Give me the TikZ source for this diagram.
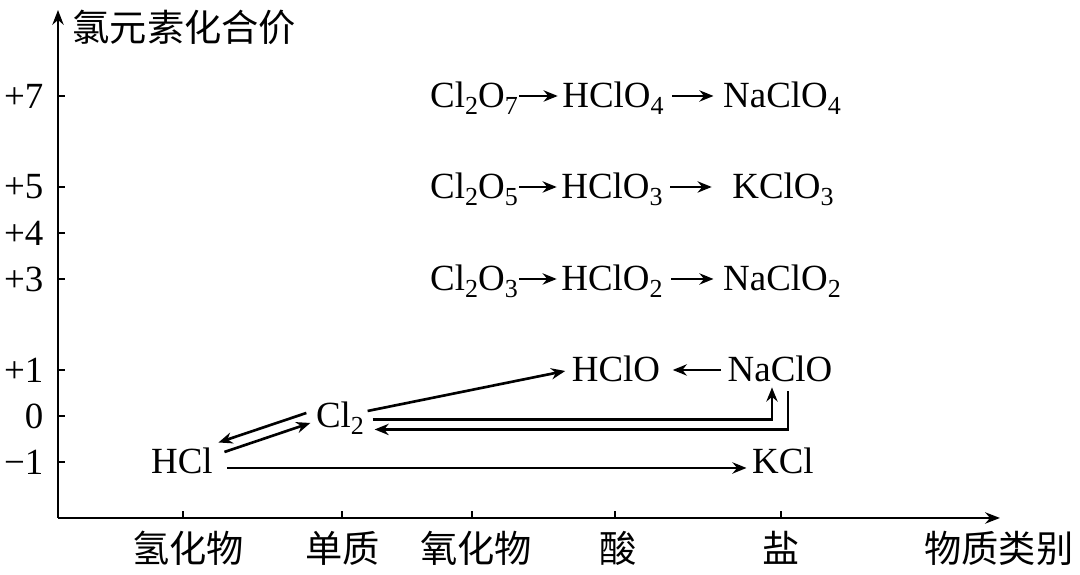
\documentclass[tikz,border=0pt]{standalone}
\usepackage{fontspec}
\setmainfont{Liberation Serif}
\newfontfamily\cjk{Noto Sans CJK SC}
\usetikzlibrary{arrows.meta}
\newcommand{\chemsub}[1]{\raisebox{-1.8pt}{\fontsize{7.4pt}{8pt}\selectfont #1}}

\begin{document}
\begin{tikzpicture}[x=0.1mm, y=0.1mm,
  axisline/.style={line width=0.8pt, -{Stealth[length=4.2pt, width=3.2pt]}},
  convarrow/.style={line width=0.75pt, -{Stealth[length=4pt, width=3.2pt]}},
  chem/.style={inner sep=0pt, text height=0.67em, text depth=0pt, font=\fontsize{10.5pt}{12pt}\selectfont},
  cnlabel/.style={inner sep=0pt, font=\cjk\fontsize{10.6pt}{12pt}\selectfont},
  valence/.style={inner sep=0pt, anchor=east, font=\fontsize{10.5pt}{12pt}\selectfont}]

  \useasboundingbox (0,0) rectangle (1080,575);

  % Axes
  \coordinate (origin) at (58,57);
  \coordinate (ytop) at (58,565);
  \coordinate (xend) at (1000,57);
  \draw[axisline] (origin) -- (ytop);
  \draw[axisline] (origin) -- (xend);
  \node[cnlabel, anchor=west] (ytitle) at (72,548) {氯元素化合价};
  \node[cnlabel] (xtitle) at (999,27) {物质类别};

  % Valence ticks
  \foreach \val/\y in {+7/479, +5/388, +4/342, +3/296, +1/205, 0/159, −1/113} {
    \draw[line width=0.8pt] (58,\y) -- (65,\y);
    \node[valence] (val\y) at (44,\y) {\val};
  }

  % Category ticks
  \foreach \x/\lx/\cat in {183/188/氢化物, 342/343/单质, 472/476/氧化物, 615/618/酸, 781/781/盐} {
    \draw[line width=0.8pt] (\x,57) -- (\x,64);
    \node[cnlabel] (cat\x) at (\lx,27) {\cat};
  }

  % Oxides, acids and salts
  \node[chem] (cl2o7) at (474,479) {Cl\chemsub{2}O\chemsub{7}};
  \node[chem] (hclo4) at (613,479) {HClO\chemsub{4}};
  \node[chem] (naclo4) at (782,479) {NaClO\chemsub{4}};
  \node[chem] (cl2o5) at (474,388) {Cl\chemsub{2}O\chemsub{5}};
  \node[chem] (hclo3) at (612,388) {HClO\chemsub{3}};
  \node[chem] (kclo3) at (783,388) {KClO\chemsub{3}};
  \node[chem] (cl2o3) at (474,296) {Cl\chemsub{2}O\chemsub{3}};
  \node[chem] (hclo2) at (612,296) {HClO\chemsub{2}};
  \node[chem] (naclo2) at (782,296) {NaClO\chemsub{2}};

  \draw[convarrow, shorten <=0.1mm, shorten >=0.4mm] (cl2o7.east) -- (hclo4.west);
  \draw[convarrow, shorten <=0.8mm, shorten >=0.9mm] (hclo4.east) -- (naclo4.west);
  \draw[convarrow, shorten <=0.1mm, shorten >=0.4mm] (cl2o5.east) -- (hclo3.west);
  \draw[convarrow, shorten <=0.7mm, shorten >=2mm] (hclo3.east) -- (kclo3.west);
  \draw[convarrow, shorten <=0.1mm, shorten >=0.4mm] (cl2o3.east) -- (hclo2.west);
  \draw[convarrow, shorten <=0.8mm, shorten >=0.9mm] (hclo2.east) -- (naclo2.west);

  % Lower valence states
  \node[chem] (hclo) at (616,205) {HClO};
  \node[chem] (naclo) at (780,205) {NaClO};
  \node[chem] (cl2) at (340,159) {Cl\chemsub{2}};
  \node[chem] (hcl) at (182,113) {HCl};
  \node[chem] (kcl) at (783,113) {KCl};

  \draw[convarrow, shorten <=0.6mm, shorten >=1.2mm] (naclo.west) -- (hclo.east);
  \draw[convarrow] ([shift={(3,5)}]cl2.east) -- ([shift={(-6,-1)}]hclo.west);
  \draw[convarrow] ([shift={(-9,3)}]cl2.west) -- ([shift={(5,7)}]hcl.north east);
  \draw[convarrow] ([shift={(11,10)}]hcl.east) -- ([shift={(-5,-7)}]cl2.west);
  \draw[convarrow] ([shift={(14,-6)}]hcl.east) -- ([shift={(-5,-6)}]kcl.west);
  \draw[convarrow] ([shift={(8,9)}]cl2.south east) -| ([shift={(-8,-5)}]naclo.south);
  \draw[convarrow] ([shift={(8,-9)}]naclo.south) |- ([shift={(10,-1)}]cl2.south east);

\end{tikzpicture}
\end{document}
